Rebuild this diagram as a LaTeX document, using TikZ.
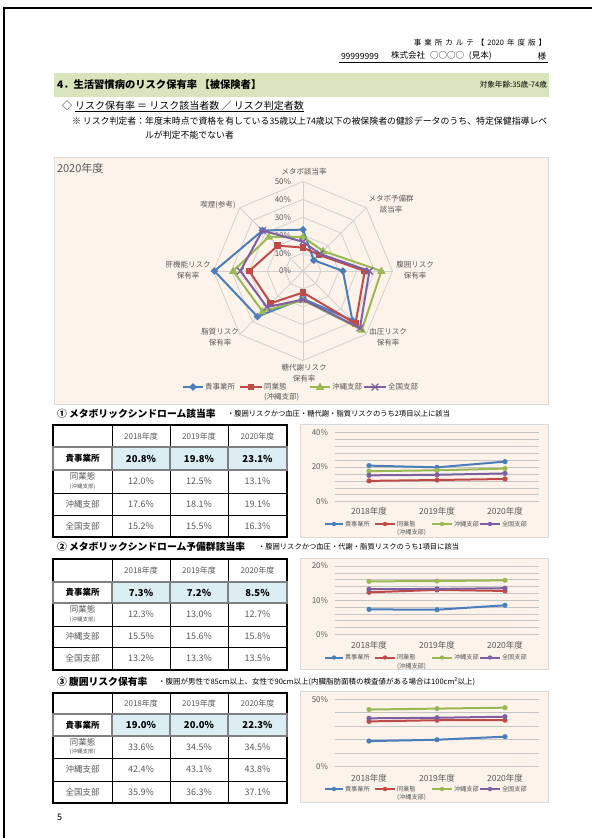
\documentclass[tikz,border=0pt]{standalone}
\usepackage{fontspec}
\setmainfont{Noto Sans CJK JP}
\definecolor{cBlue}{HTML}{4A7EBB}
\definecolor{cRed}{HTML}{BE4B48}
\definecolor{cGreen}{HTML}{98B954}
\definecolor{cPurple}{HTML}{7D60A0}
\definecolor{bandc}{HTML}{D8E4BC}
\definecolor{peach}{HTML}{FDF3EA}
\definecolor{boxc}{HTML}{D9D9D9}
\definecolor{gridc}{HTML}{D0D0D0}
\definecolor{lgridc}{HTML}{C4C4C4}
\definecolor{hlfill}{HTML}{DAEEF3}
\definecolor{hlborder}{HTML}{808080}
\definecolor{txtg}{HTML}{595959}
\newcommand\kgap{\hspace{3pt}}
\newcommand\mkdia[2]{\fill[#1] (#2) ++(0,-3.8) -- ++(3.8,3.8) -- ++(-3.8,3.8) -- ++(-3.8,-3.8) -- cycle;}
\newcommand\mksq[2]{\fill[#1] (#2) ++(-3.3,-3.3) rectangle ++(6.6,6.6);}
\newcommand\mktri[2]{\fill[#1] (#2) ++(0,-4.4) -- ++(4.2,7.2) -- ++(-8.4,0) -- cycle;}
\newcommand\mkx[2]{\draw[#1,line width=1.3pt] (#2) ++(-3.3,-3.3) -- ++(6.6,6.6) (#2) ++(-3.3,3.3) -- ++(6.6,-6.6);}
\newcommand\lser[6]{%
  \draw[serie,#1] (369,{#2-#3*#4}) -- (437,{#2-#3*#5}) -- (505,{#2-#3*#6});
  \fill[#1] (369,{#2-#3*#4}) circle (2.6pt);
  \fill[#1] (437,{#2-#3*#5}) circle (2.6pt);
  \fill[#1] (505,{#2-#3*#6}) circle (2.6pt);
}
\newcommand\lleg[1]{%
  \draw[cBlue,line width=2pt] (325,#1) -- (343,#1); \fill[cBlue] (334,#1) circle (2.2pt);
  \node[sleg] at (345,#1) {貴事業所};
  \draw[cRed,line width=2pt] (375,#1) -- (395,#1); \fill[cRed] (385,#1) circle (2.2pt);
  \node[sleg] at (397,#1) {同業態};
  \node[sleg] at (397,{#1+8.5}) {(沖縄支部)};
  \draw[cGreen,line width=2pt] (432,#1) -- (452,#1); \fill[cGreen] (442,#1) circle (2.2pt);
  \node[sleg] at (454,#1) {沖縄支部};
  \draw[cPurple,line width=2pt] (480,#1) -- (500,#1); \fill[cPurple] (490,#1) circle (2.2pt);
  \node[sleg] at (502,#1) {全国支部};
}
\newcommand\tgrid[6]{%
  \fill[hlfill] (112,#2) rectangle (287,#3);
  \foreach \yy in {#2,#3,#4,#5} \draw[tline] (53,\yy) -- (287,\yy);
  \foreach \xx in {112,170,228} \draw[tline] (\xx,#1) -- (\xx,#6);
  \draw[tline,line width=1.2pt] (53,#1) rectangle (287,#6);
  \draw[hlline] (53,#2) rectangle (287,#3);
  \foreach \xx in {112,170,228} \draw[hlline] (\xx,#2) -- (\xx,#3);
  \foreach \xx/\yv in {141/2018,199/2019,257.5/2020} \node[thead] at (\xx,{(#1+#2)/2}) {\yv 年度};
  \node[rlabb] at (82.5,{(#2+#3)/2}) {貴事業所};
  \node[rlab] at (82.5,{(#3+#4)/2-5}) {同業態};
  \node[rsub] at (82.5,{(#3+#4)/2+5}) {(沖縄支部)};
  \node[rlab] at (82.5,{(#4+#5)/2}) {沖縄支部};
  \node[rlab] at (82.5,{(#5+#6)/2}) {全国支部};
}
\newcommand\trow[5]{%
  \node[#2] at (141,#1) {#3};
  \node[#2] at (199,#1) {#4};
  \node[#2] at (257.5,#1) {#5};
}
\begin{document}
\begin{tikzpicture}[x=1pt,y=-1pt,
  every node/.style={inner sep=0pt,outer sep=0pt},
  pageframe/.style={line width=2pt,black},
  gridline/.style={draw=gridc,line width=0.8pt},
  radarline/.style={line width=2pt,line join=round},
  chartbox/.style={fill=peach,draw=boxc,line width=0.8pt},
  lgrid/.style={draw=lgridc,line width=0.6pt},
  tline/.style={draw=black,line width=0.9pt},
  hlline/.style={draw=hlborder,line width=1.8pt},
  serie/.style={line width=2pt,line join=round},
  ttitle/.style={font=\bfseries\fontsize{9.8}{11}\selectfont,anchor=west},
  tnote/.style={font=\fontsize{7.3}{9}\selectfont,anchor=west},
  thead/.style={font=\fontsize{8}{9}\selectfont,text=txtg},
  tval/.style={font=\fontsize{9}{10}\selectfont,text=txtg},
  thl/.style={font=\bfseries\fontsize{9.5}{10}\selectfont},
  rlab/.style={font=\fontsize{8.5}{10}\selectfont,text=txtg},
  rlabb/.style={font=\bfseries\fontsize{8.5}{10}\selectfont},
  rsub/.style={font=\fontsize{5.5}{6}\selectfont,text=txtg},
  axl/.style={font=\fontsize{7.5}{11}\selectfont,text=txtg,align=center},
  pct/.style={font=\fontsize{8}{9}\selectfont,text=txtg,anchor=east},
  leg/.style={font=\fontsize{7.5}{9}\selectfont,text=txtg,anchor=west},
  sleg/.style={font=\fontsize{6.2}{7}\selectfont,text=txtg,anchor=west},
  yr/.style={font=\fontsize{8.5}{9}\selectfont,text=txtg}]
\useasboundingbox (0,0) rectangle (592,838);
\fill[white] (0,0) rectangle (592,838);
% page frame
\draw[pageframe] (4,838) -- (4,8) -- (592,8);
% header
\node[anchor=east,font=\fontsize{7.5}{9}\selectfont] (karte) at (546,43) {事\kgap 業\kgap 所\kgap カ\kgap ル\kgap テ\kgap 【\kgap 2020\kgap 年\kgap 度\kgap 版\kgap 】};
\node[anchor=west,font=\fontsize{8.5}{9}\selectfont] (cno) at (341,56) {99999999};
\node[anchor=west,font=\fontsize{8.5}{9}\selectfont] (cname) at (391,56) {株式会社\hspace{5pt}○○○○\hspace{5pt}(見本)};
\node[anchor=east,font=\fontsize{8.5}{9}\selectfont] (sama) at (546,56) {様};
\coordinate (ulA) at (339,62.5);
\coordinate (ulB) at (548,62.5);
\draw[line width=1.2pt] (ulA) -- (ulB);
% section band
\fill[bandc] (54,73) rectangle (549,97);
\node[anchor=west,font=\bfseries\fontsize{10.3}{12}\selectfont] (sec) at (57,85) {4．生活習慣病のリスク保有率 【被保険者】};
\node[anchor=east,font=\fontsize{7.6}{9}\selectfont] (age) at (547,85) {対象年齢:35歳-74歳};
\node[anchor=west,font=\fontsize{10}{12}\selectfont] (dia) at (62,106) {◇};
\node[anchor=west,font=\fontsize{10}{12}\selectfont] (defu) at ([xshift=3pt]dia.east) {リスク保有率 ＝ リスク該当者数 ／ リスク判定者数};
\draw[line width=0.7pt] ([yshift=-0.5pt]defu.south west) -- ([yshift=-0.5pt]defu.south east);
\node[anchor=west,font=\fontsize{8.9}{11}\selectfont] (note) at (72,121) {※ リスク判定者：年度末時点で資格を有している35歳以上74歳以下の被保険者の健診データのうち、特定保健指導レベ};
\node[anchor=west,font=\fontsize{8.9}{11}\selectfont] (note2) at (145,135) {ルが判定不能でない者};
% radar chart
\draw[chartbox] (54,157) rectangle (548,404);
\node[anchor=west,font=\fontsize{11}{12}\selectfont,text=txtg] (ryear) at (57,168) {2020年度};
\coordinate (C) at (303,271);
\begin{scope}[shift={(C)}]
  \foreach \r in {1,...,5}
    \draw[gridline] (-90:{17.9*\r}) -- (-45:{17.9*\r}) -- (0:{17.9*\r}) -- (45:{17.9*\r}) -- (90:{17.9*\r}) -- (135:{17.9*\r}) -- (180:{17.9*\r}) -- (225:{17.9*\r}) -- cycle;
  \foreach \k in {0,...,7} \draw[gridline] (0,0) -- ({-90+45*\k}:89.5);
  \foreach \v [count=\k from 0] in {23.1,8.5,22.3,39,15.5,36,49.5,32} \coordinate (bl\k) at ({-90+45*\k}:{1.79*\v});
  \foreach \v [count=\k from 0] in {13.1,12.7,34.5,41.5,12,25.5,30,20} \coordinate (rd\k) at ({-90+45*\k}:{1.79*\v});
  \foreach \v [count=\k from 0] in {19.1,15.8,43.8,46.5,16.3,32,39,27} \coordinate (gr\k) at ({-90+45*\k}:{1.79*\v});
  \foreach \v [count=\k from 0] in {16.3,13.5,37.1,45,16,28.5,35,32} \coordinate (pu\k) at ({-90+45*\k}:{1.79*\v});
\end{scope}
\foreach \p in {0,10,...,50} \node[pct] at (291,{271-1.79*\p}) {\p\%};
\draw[radarline,cBlue] (bl0) -- (bl1) -- (bl2) -- (bl3) -- (bl4) -- (bl5) -- (bl6) -- (bl7) -- cycle;
\foreach \k in {0,...,7} {\mkdia{cBlue}{bl\k}}
\draw[radarline,cRed] (rd0) -- (rd1) -- (rd2) -- (rd3) -- (rd4) -- (rd5) -- (rd6) -- (rd7) -- cycle;
\foreach \k in {0,...,7} {\mksq{cRed}{rd\k}}
\draw[radarline,cGreen] (gr0) -- (gr1) -- (gr2) -- (gr3) -- (gr4) -- (gr5) -- (gr6) -- (gr7) -- cycle;
\foreach \k in {0,...,7} {\mktri{cGreen}{gr\k}}
\draw[radarline,cPurple] (pu0) -- (pu1) -- (pu2) -- (pu3) -- (pu4) -- (pu5) -- (pu6) -- (pu7) -- cycle;
\foreach \k in {0,...,7} {\mkx{cPurple}{pu\k}}
\node[axl] (ax0) at (304,172) {メタボ該当率};
\node[axl] (ax1) at (391,204.5) {メタボ予備群\\該当率};
\node[axl] (ax2) at (415,270.5) {腹囲リスク\\保有率};
\node[axl] (ax3) at (388,337.5) {血圧リスク\\保有率};
\node[axl] (ax4) at (304,373) {糖代謝リスク\\保有率};
\node[axl] (ax5) at (220,337) {脂質リスク\\保有率};
\node[axl] (ax6) at (188,270.5) {肝機能リスク\\保有率};
\node[axl] (ax7) at (218,205) {喫煙(参考)};
% radar legend
\draw[cBlue,line width=2pt] (183,387) -- (203,387); \mkdia{cBlue}{193,387}
\node[leg] (lg1) at (205,387) {貴事業所};
\draw[cRed,line width=2pt] (240,387) -- (262,387); \mksq{cRed}{251,387}
\node[leg] (lg2) at (264,387) {同業態};
\node[leg] (lg2b) at (264,397) {(沖縄支部)};
\draw[cGreen,line width=2pt] (310,387) -- (330,387); \mktri{cGreen}{320,387}
\node[leg] (lg3) at (332,387) {沖縄支部};
\draw[cPurple,line width=2pt] (364,387) -- (386,387); \mkx{cPurple}{375,387}
\node[leg] (lg4) at (388,387) {全国支部};
% ---------- section 1
\node[ttitle] (t1) at (57,414) {① メタボリックシンドローム該当率};
\node[tnote] (n1) at (227,414) {・腹囲リスクかつ血圧・糖代謝・脂質リスクのうち2項目以上に該当};
\tgrid{425}{447}{470}{493}{515}{537}
\trow{458.5}{thl}{20.8\%}{19.8\%}{23.1\%}
\trow{481.5}{tval}{12.0\%}{12.5\%}{13.1\%}
\trow{504}{tval}{17.6\%}{18.1\%}{19.1\%}
\trow{526}{tval}{15.2\%}{15.5\%}{16.3\%}
\draw[chartbox] (300,424) rectangle (548,537);
\foreach \g in {0,4,...,40} \draw[lgrid] (335,{501.7-1.735*\g}) -- (539,{501.7-1.735*\g});
\foreach \p in {0,20,40} \node[pct] at (328,{501.7-1.735*\p}) {\p\%};
\foreach \xx/\yv in {369/2018,437/2019,505/2020} \node[yr] at (\xx,511) {\yv 年度};
\lser{cBlue}{501.7}{1.735}{20.8}{19.8}{23.1}
\lser{cRed}{501.7}{1.735}{12.0}{12.5}{13.1}
\lser{cGreen}{501.7}{1.735}{17.6}{18.1}{19.1}
\lser{cPurple}{501.7}{1.735}{15.2}{15.5}{16.3}
\lleg{524}
% ---------- section 2
\node[ttitle] (t2) at (57,547) {② メタボリックシンドローム予備群該当率};
\node[tnote] (n2) at (258,547) {・腹囲リスクかつ血圧・代謝・脂質リスクのうち1項目に該当};
\tgrid{559}{582}{603}{626}{647}{670}
\trow{592.5}{thl}{7.3\%}{7.2\%}{8.5\%}
\trow{614.5}{tval}{12.3\%}{13.0\%}{12.7\%}
\trow{636.5}{tval}{15.5\%}{15.6\%}{15.8\%}
\trow{658.5}{tval}{13.2\%}{13.3\%}{13.5\%}
\draw[chartbox] (300,558) rectangle (548,669);
\foreach \g in {0,2,...,20} \draw[lgrid] (335,{634.3-3.415*\g}) -- (539,{634.3-3.415*\g});
\foreach \p in {0,10,20} \node[pct] at (328,{634.3-3.415*\p}) {\p\%};
\foreach \xx/\yv in {369/2018,437/2019,505/2020} \node[yr] at (\xx,645) {\yv 年度};
\lser{cBlue}{634.3}{3.415}{7.3}{7.2}{8.5}
\lser{cRed}{634.3}{3.415}{12.3}{13.0}{12.7}
\lser{cGreen}{634.3}{3.415}{15.5}{15.6}{15.8}
\lser{cPurple}{634.3}{3.415}{13.2}{13.3}{13.5}
\lleg{657.5}
% ---------- section 3
\node[ttitle] (t3) at (57,682) {③ 腹囲リスク保有率};
\node[tnote,font=\fontsize{7.5}{9}\selectfont] (n3) at (158,682) {・腹囲が男性で85cm以上、女性で90cm以上(内臓脂肪面積の検査値がある場合は100cm²以上)};
\tgrid{693}{714}{736}{758}{781}{803}
\trow{725}{thl}{19.0\%}{20.0\%}{22.3\%}
\trow{747}{tval}{33.6\%}{34.5\%}{34.5\%}
\trow{769.5}{tval}{42.4\%}{43.1\%}{43.8\%}
\trow{792}{tval}{35.9\%}{36.3\%}{37.1\%}
\draw[chartbox] (300,691) rectangle (548,802);
\foreach \g in {0,10,...,50} \draw[lgrid] (335,{766.7-1.348*\g}) -- (539,{766.7-1.348*\g});
\foreach \p in {0,50} \node[pct] at (328,{766.7-1.348*\p}) {\p\%};
\foreach \xx/\yv in {369/2018,437/2019,505/2020} \node[yr] at (\xx,778) {\yv 年度};
\lser{cBlue}{766.7}{1.348}{19.0}{20.0}{22.3}
\lser{cRed}{766.7}{1.348}{33.6}{34.5}{34.5}
\lser{cGreen}{766.7}{1.348}{42.4}{43.1}{43.8}
\lser{cPurple}{766.7}{1.348}{35.9}{36.3}{37.1}
\lleg{789}
% page number
\node[anchor=west,font=\fontsize{9}{10}\selectfont] (pg) at (57,817) {5};
\end{tikzpicture}
\end{document}
